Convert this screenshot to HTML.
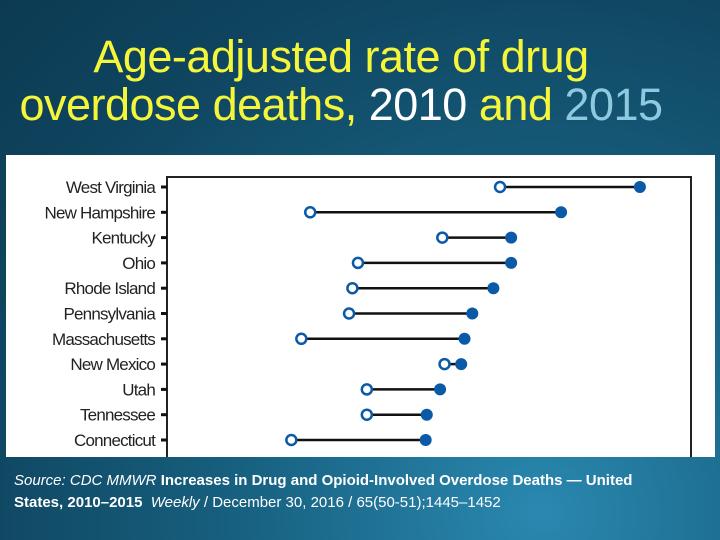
<!DOCTYPE html>
<html><head><meta charset="utf-8"><style>
html,body{margin:0;padding:0}
body{width:720px;height:540px;overflow:hidden;position:relative;background:radial-gradient(ellipse at 75% 95%,#2a88b0 0%,#17607f 40%,#0f4560 75%,#0c3a52 100%);font-family:"Liberation Sans",sans-serif}
.t{position:absolute;left:0;width:720px;text-align:center;color:#f5f53a;font-size:45px;line-height:48px;letter-spacing:-0.5px;white-space:nowrap}
.src{position:absolute;left:14px;top:470px;color:#fff;font-size:15px;line-height:22px;width:670px}
</style></head><body>
<div class="t" style="top:33px;left:-19px">Age-adjusted rate of drug</div>
<div class="t" style="top:81px;left:-19px">overdose deaths, <span style="color:#fff">2010</span> and <span style="color:#8fc9e0">2015</span></div>
<svg id="c" width="720" height="540" style="position:absolute;left:0;top:0"></svg>
<div class="src"><i>Source: CDC MMWR</i> <b>Increases in Drug and Opioid-Involved Overdose Deaths — United States, 2010–2015</b> &nbsp;<i>Weekly</i> / December 30, 2016 / 65(50-51);1445–1452</div>
<script>
const states=["West Virginia","New Hampshire","Kentucky","Ohio","Rhode Island","Pennsylvania","Massachusetts","New Mexico","Utah","Tennessee","Connecticut"];
const rate2010=[28.9,11.8,23.7,16.1,15.6,15.3,11.0,23.9,16.9,16.9,10.1];
const rate2015=[41.5,34.4,29.9,29.9,28.3,26.4,25.7,25.4,23.5,22.3,22.2];
const xMin=-1.1,xMax=46.1;
const ns="http://www.w3.org/2000/svg",svg=document.getElementById('c');
const L=167,R=691,T=177,B=457;
const x=v=>L+(v-xMin)/(xMax-xMin)*(R-L);
const y=i=>187+i*25.3;
function mk(t,a){const e=document.createElementNS(ns,t);for(const k in a)e.setAttribute(k,a[k]);svg.appendChild(e);return e;}
const panel=mk('rect',{x:6,y:155,width:709,height:302,fill:'#fff'});


const frame=mk('path',{d:`M${L},${B}V${T}H${R}V${B}`,fill:'none',stroke:'#222','stroke-width':2});


states.forEach((s,i)=>{
  const yy=y(i);
  const tk=mk('line',{x1:L-6,x2:L,y1:yy,y2:yy,stroke:'#111','stroke-width':3});
  
  
  const lb=mk('text',{x:L-12,y:yy+6,'text-anchor':'end','font-size':'17','fill':'#222','font-family':'Liberation Sans Narrow, Liberation Sans, sans-serif','letter-spacing':'-0.8'});
  lb.textContent=s;
  
  
  const ln=mk('line',{x1:x(rate2010[i]),x2:x(rate2015[i]),y1:yy,y2:yy,stroke:'#111','stroke-width':2.5});
  
  
  const a=mk('circle',{cx:x(rate2010[i]),cy:yy,r:5,fill:'#fff',stroke:'#0a5aa8','stroke-width':2.5});
  
  
  const b=mk('circle',{cx:x(rate2015[i]),cy:yy,r:6,fill:'#0a5aa8'});
  
  
});
</script>
</body></html>
